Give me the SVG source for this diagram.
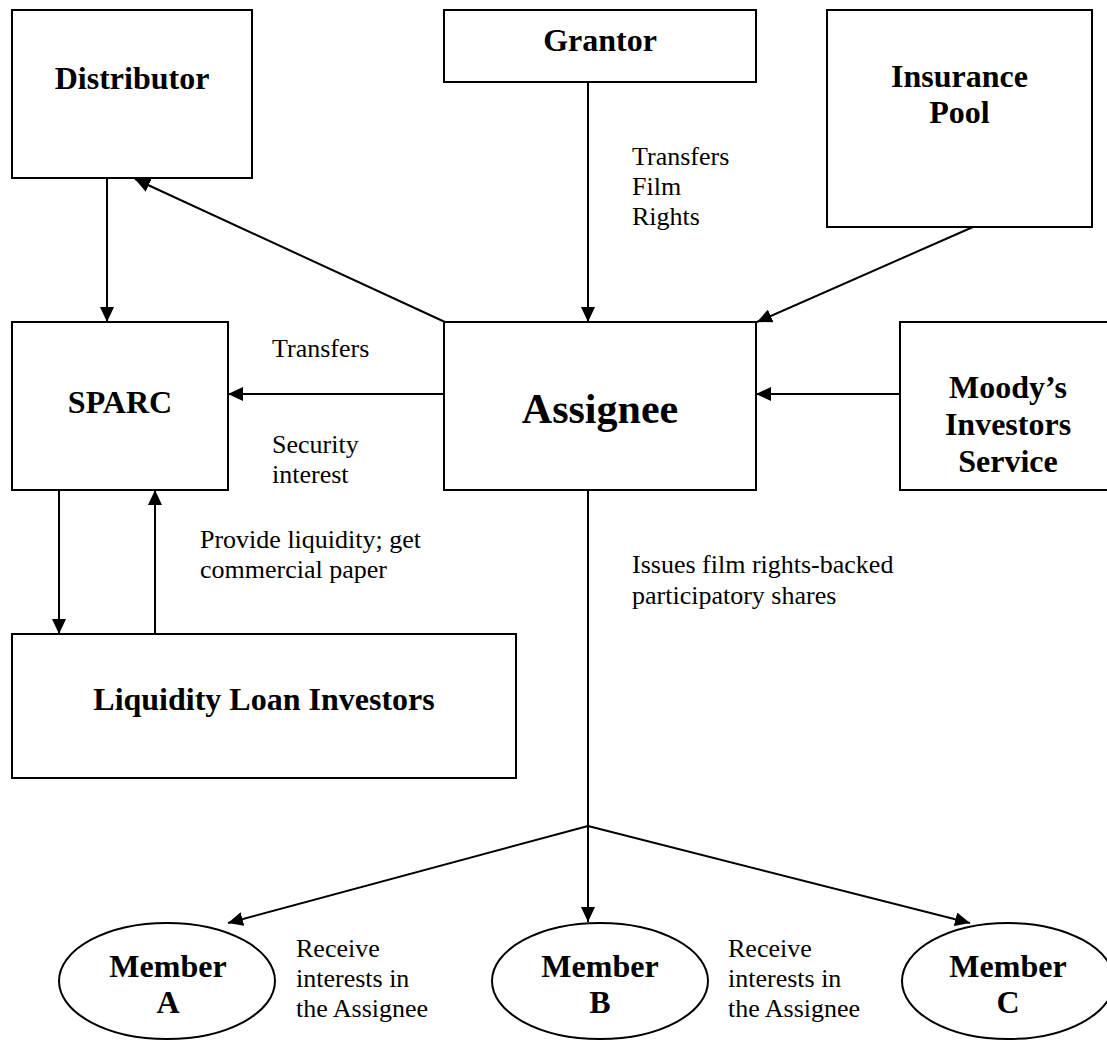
<svg xmlns="http://www.w3.org/2000/svg" width="1107" height="1040" viewBox="0 0 1107 1040">
<style>
.box{fill:#fff;stroke:#000;stroke-width:2}
.b{font-family:"Liberation Serif","Times New Roman",serif;font-weight:bold;font-size:32px;fill:#000;text-anchor:middle}
.big{font-size:42px}
.t{font-family:"Liberation Serif","Times New Roman",serif;font-size:26px;fill:#000}
.c{fill:none;stroke:#000;stroke-width:2}
</style>
<defs>
<marker id="ah" markerUnits="userSpaceOnUse" markerWidth="16" markerHeight="14" refX="15" refY="7" orient="auto">
<path d="M0,0 L15,7 L0,14 z" fill="#000"/>
</marker>
</defs>
<rect width="1107" height="1040" fill="#fff"/>
<g id="connectors">
<line class="c" x1="107" y1="178" x2="107" y2="322" marker-end="url(#ah)"/>
<line class="c" x1="445" y1="322" x2="135" y2="179" marker-end="url(#ah)"/>
<line class="c" x1="588" y1="82" x2="588" y2="322" marker-end="url(#ah)"/>
<line class="c" x1="973" y1="227" x2="757" y2="322" marker-end="url(#ah)"/>
<line class="c" x1="444" y1="394" x2="228" y2="394" marker-end="url(#ah)"/>
<line class="c" x1="900" y1="394" x2="756" y2="394" marker-end="url(#ah)"/>
<line class="c" x1="59" y1="490" x2="59" y2="634" marker-end="url(#ah)"/>
<line class="c" x1="155" y1="634" x2="155" y2="490" marker-end="url(#ah)"/>
<polyline class="c" points="588,490 588,826"/>
<line class="c" x1="588" y1="826" x2="228" y2="923" marker-end="url(#ah)"/>
<line class="c" x1="588" y1="826" x2="588" y2="922" marker-end="url(#ah)"/>
<line class="c" x1="588" y1="826" x2="970" y2="923" marker-end="url(#ah)"/>
<text class="t" x="632" y="165">Transfers</text>
<text class="t" x="632" y="195">Film</text>
<text class="t" x="632" y="225">Rights</text>
<text class="t" x="272" y="357">Transfers</text>
<text class="t" x="272" y="453">Security</text>
<text class="t" x="272" y="483">interest</text>
<text class="t" x="200" y="548">Provide liquidity; get</text>
<text class="t" x="200" y="578">commercial paper</text>
<text class="t" x="632" y="573">Issues film rights-backed</text>
<text class="t" x="632" y="604">participatory shares</text>
<text class="t" x="296" y="957">Receive</text>
<text class="t" x="296" y="987">interests in</text>
<text class="t" x="296" y="1017">the Assignee</text>
<text class="t" x="728" y="957">Receive</text>
<text class="t" x="728" y="987">interests in</text>
<text class="t" x="728" y="1017">the Assignee</text>
</g>
<g id="distributor">
<rect class="box" x="12" y="10" width="240" height="168"/>
<text class="b" x="132" y="89">Distributor</text>
</g>
<g id="grantor">
<rect class="box" x="444" y="10" width="312" height="72"/>
<text class="b" x="600" y="51">Grantor</text>
</g>
<g id="insurance-pool">
<rect class="box" x="827" y="10" width="265" height="217"/>
<text class="b" x="959.5" y="87">Insurance</text>
<text class="b" x="959.5" y="123">Pool</text>
</g>
<g id="sparc">
<rect class="box" x="12" y="322" width="216" height="168"/>
<text class="b" x="120" y="413">SPARC</text>
</g>
<g id="assignee">
<rect class="box" x="444" y="322" width="312" height="168"/>
<text class="b big" x="600" y="423">Assignee</text>
</g>
<g id="moodys">
<rect class="box" x="900" y="322" width="216" height="168"/>
<text class="b" x="1008" y="398">Moody’s</text>
<text class="b" x="1008" y="435">Investors</text>
<text class="b" x="1008" y="472">Service</text>
</g>
<g id="liquidity-loan-investors">
<rect class="box" x="12" y="634" width="504" height="144"/>
<text class="b" x="264" y="710">Liquidity Loan Investors</text>
</g>
<g id="member-a">
<ellipse class="box" cx="167" cy="981" rx="108" ry="58"/>
<text class="b" x="168" y="977">Member</text>
<text class="b" x="168" y="1013">A</text>
</g>
<g id="member-b">
<ellipse class="box" cx="600" cy="981" rx="108" ry="58"/>
<text class="b" x="600" y="977">Member</text>
<text class="b" x="600" y="1013">B</text>
</g>
<g id="member-c">
<ellipse class="box" cx="1008" cy="981" rx="106" ry="58"/>
<text class="b" x="1008" y="977">Member</text>
<text class="b" x="1008" y="1013">C</text>
</g>
</svg>
